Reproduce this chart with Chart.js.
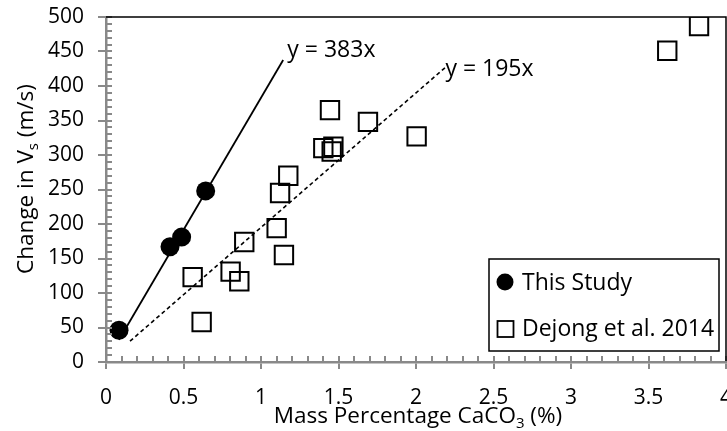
<!DOCTYPE html>
<html><head><meta charset="utf-8">
<script src="https://cdn.jsdelivr.net/npm/chart.js@4/dist/chart.umd.min.js"></script>
<style>html,body{margin:0;padding:0;background:#fff;overflow:hidden}#wrap{width:727px;height:431px;position:relative}</style>
</head><body><div id="wrap"><canvas id="c" width="727" height="431"></canvas></div>
<script>
// ---- data ----
const xTickLabels = ['0','0.5','1','1.5','2','2.5','3','3.5','4'];
const yTickLabels = ['0','50','100','150','200','250','300','350','400','450','500'];
const seriesNames = ['This Study', 'Dejong et al. 2014'];
const thisStudyX = [0.084, 0.413, 0.488, 0.643];
const thisStudyY = [46, 167, 181, 248];
const dejongX = [3.826, 3.621, 1.445, 1.69, 2.004, 1.402, 1.467, 1.456, 1.176, 1.123, 1.101, 0.892, 1.148, 0.804, 0.860, 0.559, 0.617];
const dejongY = [487, 451, 365, 348, 327, 310, 312, 305, 270, 245, 194, 174, 155, 131, 117, 123, 58];
const trendSlopes = [383, 195];
const trendStartX = [0.084, 0.155];
const trendEndX = [1.143, 2.2];
const trendLabels = ['y = 383x', 'y = 195x'];
const trendLabelX = [1.17, 2.19];
const trendLabelY = [451, 424];
const xTitleMain = 'Mass Percentage CaCO', xTitleSub = '3', xTitleEnd = ' (%)';
const yTitleMain = 'Change in V', yTitleSub = 's', yTitleEnd = ' (m/s)';

// ---- styling ----
const FONT = '"Open Sans", sans-serif';
const FS = 21;      // tick labels
const FS_X = 22.5;  // x title
const FS_Y = 22.5;  // y title
const FS_L = 23;    // legend & trend labels
const AX = '#898989';

const pts = (xs, ys) => xs.map((x, i) => ({x, y: ys[i]}));
const trend = (i) => [trendStartX[i], trendEndX[i]].map(x => ({x, y: trendSlopes[i] * x}));

const deco = {
  id: 'deco',
  afterDraw(chart) {
    const {ctx, chartArea: a, scales: {x, y}} = chart;
    ctx.save();
    // minor / inner ticks
    ctx.strokeStyle = AX; ctx.lineWidth = 2;
    ctx.beginPath();
    for (let i = 0; i <= 50; i++) {
      const py = Math.round(y.getPixelForValue(i * 10));
      ctx.moveTo(a.left, py); ctx.lineTo(a.left + 6, py);
    }
    for (let i = 0; i <= 40; i++) {
      const px = Math.round(x.getPixelForValue(i / 10));
      ctx.moveTo(px, a.bottom); ctx.lineTo(px, a.bottom - 6);
    }
    ctx.stroke();
    // top & right border
    ctx.strokeStyle = '#000'; ctx.lineWidth = 1.5;
    ctx.beginPath();
    ctx.moveTo(a.left, a.top); ctx.lineTo(a.right, a.top); ctx.lineTo(a.right, a.bottom - 1);
    ctx.stroke();
    // trendline labels
    ctx.fillStyle = '#000';
    ctx.font = FS_L + 'px ' + FONT;
    ctx.textBaseline = 'middle'; ctx.textAlign = 'left';
    trendLabels.forEach((t, i) => {
      ctx.fillText(t, x.getPixelForValue(trendLabelX[i]), y.getPixelForValue(trendLabelY[i]));
    });
    // axis titles
    const sub = (main, s, end, cx, base, fs) => {
      const fsS = Math.round(fs * 0.65);
      ctx.font = fs + 'px ' + FONT;
      const w1 = ctx.measureText(main).width;
      ctx.font = fsS + 'px ' + FONT;
      const w2 = ctx.measureText(s).width;
      ctx.font = fs + 'px ' + FONT;
      const w3 = ctx.measureText(end).width;
      let sx = cx - (w1 + w2 + w3) / 2;
      ctx.textAlign = 'left'; ctx.textBaseline = 'alphabetic';
      ctx.fillText(main, sx, base);
      ctx.font = fsS + 'px ' + FONT;
      ctx.fillText(s, sx + w1, base + 5);
      ctx.font = fs + 'px ' + FONT;
      ctx.fillText(end, sx + w1 + w2, base);
    };
    sub(xTitleMain, xTitleSub, xTitleEnd, (a.left + a.right) / 2 + 2, 423, FS_X);
    ctx.save();
    ctx.translate(33, 179); ctx.rotate(-Math.PI / 2);
    sub(yTitleMain, yTitleSub, yTitleEnd, 0, 0, FS_Y);
    ctx.restore();
    // legend
    const lx = a.right - 237, ly = a.top + 242, lw = 230, lh = 92;
    ctx.fillStyle = '#fff'; ctx.fillRect(lx, ly, lw, lh);
    ctx.strokeStyle = '#000'; ctx.lineWidth = 1.5; ctx.strokeRect(lx, ly, lw, lh);
    ctx.fillStyle = '#000';
    ctx.beginPath(); ctx.arc(lx + 16, ly + 23, 8.5, 0, Math.PI * 2); ctx.fill();
    ctx.lineWidth = 1.8; ctx.strokeRect(lx + 8.5, ly + 62, 16, 16);
    ctx.font = FS_L + 'px ' + FONT; ctx.textAlign = 'left'; ctx.textBaseline = 'alphabetic';
    ctx.fillText(seriesNames[0], lx + 33, ly + 31);
    ctx.fillText(seriesNames[1], lx + 33, ly + 77);
    ctx.restore();
  }
};

new Chart(document.getElementById('c'), {
  type: 'scatter',
  data: {
    datasets: [
      {label: seriesNames[0], data: pts(thisStudyX, thisStudyY), pointStyle: 'circle', pointRadius: 9.5, backgroundColor: '#000', borderColor: '#000', borderWidth: 0, order: 1},
      {label: seriesNames[1], data: pts(dejongX, dejongY), pointStyle: 'rect', pointRadius: 13, backgroundColor: 'rgba(0,0,0,0)', borderColor: '#000', borderWidth: 2, order: 2},
      {label: trendLabels[0], data: trend(0), type: 'line', showLine: true, borderColor: '#000', borderWidth: 1.8, pointRadius: 0, fill: false, order: 3},
      {label: trendLabels[1], data: trend(1), type: 'line', showLine: true, borderColor: '#000', borderWidth: 1.6, borderDash: [4, 3], pointRadius: 0, fill: false, order: 4}
    ]
  },
  options: {
    responsive: false, animation: false, devicePixelRatio: 1,
    layout: {autoPadding: false, padding: {top: 17, right: 1, left: 0, bottom: 0}},
    plugins: {legend: {display: false}, tooltip: {enabled: false}},
    scales: {
      x: {
        type: 'linear', min: 0, max: 4,
        afterFit(s) { s.height = 69; s.paddingLeft = 0; s.paddingRight = 0; },
        ticks: {stepSize: 0.5, color: '#000', font: {family: FONT, size: FS}, padding: 16, maxRotation: 0, autoSkip: false,
          callback: (v) => xTickLabels[Math.round(v / 0.5)]},
        grid: {display: true, drawOnChartArea: false, drawTicks: true, tickLength: 7, color: AX, lineWidth: 2},
        border: {display: true, color: AX, width: 2.5}
      },
      y: {
        type: 'linear', min: 0, max: 500,
        afterFit(s) { s.width = 106; s.paddingTop = 0; s.paddingBottom = 0; },
        ticks: {stepSize: 50, color: '#000', font: {family: FONT, size: FS}, padding: 14, autoSkip: false,
          callback: (v) => yTickLabels[Math.round(v / 50)]},
        grid: {display: true, drawOnChartArea: false, drawTicks: true, tickLength: 8, color: AX, lineWidth: 2},
        border: {display: true, color: AX, width: 2.5}
      }
    }
  },
  plugins: [deco]
});
</script></body></html>
